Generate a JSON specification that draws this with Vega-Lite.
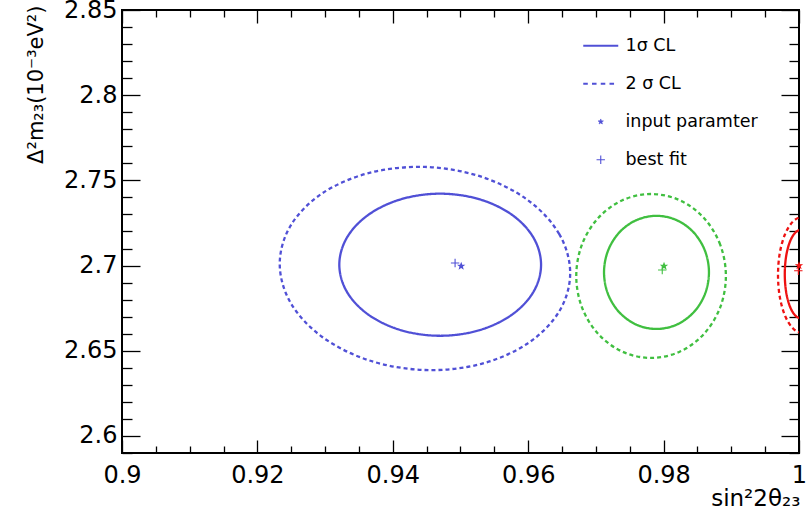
{
  "$schema": "https://vega.github.io/schema/vega-lite/v6.json",
  "width": 677,
  "height": 443,
  "autosize": "none",
  "padding": {"left": 122, "top": 10, "right": 10, "bottom": 66},
  "background": "white",
  "datasets": {
    "contours": [
      {"c":"B1","grp":"blue","cl":"1","i":0,"x":0.9619,"y":2.7005},
      {"c":"B1","grp":"blue","cl":"1","i":1,"x":0.96077,"y":2.71646},
      {"c":"B1","grp":"blue","cl":"1","i":2,"x":0.95754,"y":2.72999},
      {"c":"B1","grp":"blue","cl":"1","i":3,"x":0.9527,"y":2.73903},
      {"c":"B1","grp":"blue","cl":"1","i":4,"x":0.947,"y":2.7422},
      {"c":"B1","grp":"blue","cl":"1","i":5,"x":0.9413,"y":2.73903},
      {"c":"B1","grp":"blue","cl":"1","i":6,"x":0.93646,"y":2.72999},
      {"c":"B1","grp":"blue","cl":"1","i":7,"x":0.93323,"y":2.71646},
      {"c":"B1","grp":"blue","cl":"1","i":8,"x":0.9321,"y":2.7005},
      {"c":"B1","grp":"blue","cl":"1","i":9,"x":0.93323,"y":2.68454},
      {"c":"B1","grp":"blue","cl":"1","i":10,"x":0.93646,"y":2.67101},
      {"c":"B1","grp":"blue","cl":"1","i":11,"x":0.9413,"y":2.66197},
      {"c":"B1","grp":"blue","cl":"1","i":12,"x":0.947,"y":2.6588},
      {"c":"B1","grp":"blue","cl":"1","i":13,"x":0.9527,"y":2.66197},
      {"c":"B1","grp":"blue","cl":"1","i":14,"x":0.95754,"y":2.67101},
      {"c":"B1","grp":"blue","cl":"1","i":15,"x":0.96077,"y":2.68454},
      {"c":"B2","grp":"blue","cl":"2","i":0,"x":0.9662,"y":2.6956},
      {"c":"B2","grp":"blue","cl":"2","i":1,"x":0.96457,"y":2.7186},
      {"c":"B2","grp":"blue","cl":"2","i":2,"x":0.95992,"y":2.7385},
      {"c":"B2","grp":"blue","cl":"2","i":3,"x":0.95296,"y":2.7523},
      {"c":"B2","grp":"blue","cl":"2","i":4,"x":0.94475,"y":2.7579},
      {"c":"B2","grp":"blue","cl":"2","i":5,"x":0.93654,"y":2.7544},
      {"c":"B2","grp":"blue","cl":"2","i":6,"x":0.92958,"y":2.7424},
      {"c":"B2","grp":"blue","cl":"2","i":7,"x":0.92493,"y":2.7236},
      {"c":"B2","grp":"blue","cl":"2","i":8,"x":0.9233,"y":2.701},
      {"c":"B2","grp":"blue","cl":"2","i":9,"x":0.92493,"y":2.678},
      {"c":"B2","grp":"blue","cl":"2","i":10,"x":0.92958,"y":2.6581},
      {"c":"B2","grp":"blue","cl":"2","i":11,"x":0.93654,"y":2.6443},
      {"c":"B2","grp":"blue","cl":"2","i":12,"x":0.94475,"y":2.6387},
      {"c":"B2","grp":"blue","cl":"2","i":13,"x":0.95296,"y":2.6422},
      {"c":"B2","grp":"blue","cl":"2","i":14,"x":0.95992,"y":2.6543},
      {"c":"B2","grp":"blue","cl":"2","i":15,"x":0.96457,"y":2.673},
      {"c":"G1","grp":"green","cl":"1","i":0,"x":0.9867,"y":2.696},
      {"c":"G1","grp":"green","cl":"1","i":1,"x":0.98611,"y":2.70871},
      {"c":"G1","grp":"green","cl":"1","i":2,"x":0.98443,"y":2.71948},
      {"c":"G1","grp":"green","cl":"1","i":3,"x":0.98192,"y":2.72667},
      {"c":"G1","grp":"green","cl":"1","i":4,"x":0.97895,"y":2.7292},
      {"c":"G1","grp":"green","cl":"1","i":5,"x":0.97598,"y":2.72667},
      {"c":"G1","grp":"green","cl":"1","i":6,"x":0.97347,"y":2.71948},
      {"c":"G1","grp":"green","cl":"1","i":7,"x":0.97179,"y":2.70871},
      {"c":"G1","grp":"green","cl":"1","i":8,"x":0.9712,"y":2.696},
      {"c":"G1","grp":"green","cl":"1","i":9,"x":0.97179,"y":2.68329},
      {"c":"G1","grp":"green","cl":"1","i":10,"x":0.97347,"y":2.67252},
      {"c":"G1","grp":"green","cl":"1","i":11,"x":0.97598,"y":2.66533},
      {"c":"G1","grp":"green","cl":"1","i":12,"x":0.97895,"y":2.6628},
      {"c":"G1","grp":"green","cl":"1","i":13,"x":0.98192,"y":2.66533},
      {"c":"G1","grp":"green","cl":"1","i":14,"x":0.98443,"y":2.67252},
      {"c":"G1","grp":"green","cl":"1","i":15,"x":0.98611,"y":2.68329},
      {"c":"G2","grp":"green","cl":"2","i":0,"x":0.9892,"y":2.6939},
      {"c":"G2","grp":"green","cl":"2","i":1,"x":0.98836,"y":2.71231},
      {"c":"G2","grp":"green","cl":"2","i":2,"x":0.98596,"y":2.72791},
      {"c":"G2","grp":"green","cl":"2","i":3,"x":0.98238,"y":2.73834},
      {"c":"G2","grp":"green","cl":"2","i":4,"x":0.97815,"y":2.742},
      {"c":"G2","grp":"green","cl":"2","i":5,"x":0.97392,"y":2.73834},
      {"c":"G2","grp":"green","cl":"2","i":6,"x":0.97034,"y":2.72791},
      {"c":"G2","grp":"green","cl":"2","i":7,"x":0.96794,"y":2.71231},
      {"c":"G2","grp":"green","cl":"2","i":8,"x":0.9671,"y":2.6939},
      {"c":"G2","grp":"green","cl":"2","i":9,"x":0.96794,"y":2.67549},
      {"c":"G2","grp":"green","cl":"2","i":10,"x":0.97034,"y":2.65989},
      {"c":"G2","grp":"green","cl":"2","i":11,"x":0.97392,"y":2.64946},
      {"c":"G2","grp":"green","cl":"2","i":12,"x":0.97815,"y":2.6458},
      {"c":"G2","grp":"green","cl":"2","i":13,"x":0.98238,"y":2.64946},
      {"c":"G2","grp":"green","cl":"2","i":14,"x":0.98596,"y":2.65989},
      {"c":"G2","grp":"green","cl":"2","i":15,"x":0.98836,"y":2.67549},
      {"c":"R1","grp":"red","cl":"1","i":0,"x":1.0027,"y":2.695},
      {"c":"R1","grp":"red","cl":"1","i":1,"x":1.00252,"y":2.70495},
      {"c":"R1","grp":"red","cl":"1","i":2,"x":1.002,"y":2.71338},
      {"c":"R1","grp":"red","cl":"1","i":3,"x":1.00122,"y":2.71902},
      {"c":"R1","grp":"red","cl":"1","i":4,"x":1.0003,"y":2.721},
      {"c":"R1","grp":"red","cl":"1","i":5,"x":0.99938,"y":2.71902},
      {"c":"R1","grp":"red","cl":"1","i":6,"x":0.9986,"y":2.71338},
      {"c":"R1","grp":"red","cl":"1","i":7,"x":0.99808,"y":2.70495},
      {"c":"R1","grp":"red","cl":"1","i":8,"x":0.9979,"y":2.695},
      {"c":"R1","grp":"red","cl":"1","i":9,"x":0.99808,"y":2.68505},
      {"c":"R1","grp":"red","cl":"1","i":10,"x":0.9986,"y":2.67662},
      {"c":"R1","grp":"red","cl":"1","i":11,"x":0.99938,"y":2.67098},
      {"c":"R1","grp":"red","cl":"1","i":12,"x":1.0003,"y":2.669},
      {"c":"R1","grp":"red","cl":"1","i":13,"x":1.00122,"y":2.67098},
      {"c":"R1","grp":"red","cl":"1","i":14,"x":1.002,"y":2.67662},
      {"c":"R1","grp":"red","cl":"1","i":15,"x":1.00252,"y":2.68505},
      {"c":"R2","grp":"red","cl":"2","i":0,"x":1.0041,"y":2.6945},
      {"c":"R2","grp":"red","cl":"2","i":1,"x":1.00383,"y":2.70751},
      {"c":"R2","grp":"red","cl":"2","i":2,"x":1.00305,"y":2.71854},
      {"c":"R2","grp":"red","cl":"2","i":3,"x":1.00188,"y":2.72591},
      {"c":"R2","grp":"red","cl":"2","i":4,"x":1.0005,"y":2.7285},
      {"c":"R2","grp":"red","cl":"2","i":5,"x":0.99912,"y":2.72591},
      {"c":"R2","grp":"red","cl":"2","i":6,"x":0.99795,"y":2.71854},
      {"c":"R2","grp":"red","cl":"2","i":7,"x":0.99717,"y":2.70751},
      {"c":"R2","grp":"red","cl":"2","i":8,"x":0.9969,"y":2.6945},
      {"c":"R2","grp":"red","cl":"2","i":9,"x":0.99717,"y":2.68149},
      {"c":"R2","grp":"red","cl":"2","i":10,"x":0.99795,"y":2.67046},
      {"c":"R2","grp":"red","cl":"2","i":11,"x":0.99912,"y":2.66309},
      {"c":"R2","grp":"red","cl":"2","i":12,"x":1.0005,"y":2.6605},
      {"c":"R2","grp":"red","cl":"2","i":13,"x":1.00188,"y":2.66309},
      {"c":"R2","grp":"red","cl":"2","i":14,"x":1.00305,"y":2.67046},
      {"c":"R2","grp":"red","cl":"2","i":15,"x":1.00383,"y":2.68149}
    ],
    "markers": [
      {"grp":"blue","kind":"input paramter","x":0.9501,"y":2.6997},
      {"grp":"blue","kind":"best fit","x":0.9492,"y":2.7015},
      {"grp":"green","kind":"input paramter","x":0.98006,"y":2.6997},
      {"grp":"green","kind":"best fit","x":0.9798,"y":2.6974},
      {"grp":"red","kind":"input paramter","x":1.0,"y":2.7},
      {"grp":"red","kind":"best fit","x":0.9999,"y":2.697}
    ]
  },
  "layer": [
    {
      "data": {"name": "contours"},
      "mark": {"type": "line", "interpolate": "cardinal-closed", "clip": true, "strokeWidth": 2.3},
      "encoding": {
        "x": {
          "field": "x", "type": "quantitative",
          "scale": {"domain": [0.9, 1.0], "nice": false, "zero": false},
          "axis": {
            "orient": "bottom",
            "values": [0.9,0.905,0.91,0.915,0.92,0.925,0.93,0.935,0.94,0.945,0.95,0.955,0.96,0.965,0.97,0.975,0.98,0.985,0.99,0.995,1],
            "domain": false, "grid": false, "labelFlush": false, "labelOverlap": false, "labelBound": false,
            "labelExpr": "abs(datum.value*50-round(datum.value*50))<1e-6 ? format(datum.value,'~g') : ''",
            "labelFontSize": 24, "labelPadding": 23,
            "tickSize": {"condition": {"test": "abs(datum.value*50-round(datum.value*50))<1e-6", "value": -13}, "value": -7},
            "tickWidth": 1.3,
            "title": "sin²2θ₂₃", "titleFontSize": 23, "titleAlign": "right", "titleBaseline": "alphabetic",
            "titleX": 678, "titleY": 52
          }
        },
        "y": {
          "field": "y", "type": "quantitative",
          "scale": {"domain": [2.59, 2.85], "nice": false, "zero": false},
          "axis": {
            "orient": "left",
            "values": [2.59,2.6,2.61,2.62,2.63,2.64,2.65,2.66,2.67,2.68,2.69,2.7,2.71,2.72,2.73,2.74,2.75,2.76,2.77,2.78,2.79,2.8,2.81,2.82,2.83,2.84,2.85],
            "domain": false, "grid": false, "labelFlush": false, "labelOverlap": false, "labelBound": false,
            "labelExpr": "abs(datum.value*20-round(datum.value*20))<1e-6 ? format(datum.value,'~g') : ''",
            "labelFontSize": 24, "labelPadding": 23,
            "tickSize": {"condition": {"test": "abs(datum.value*20-round(datum.value*20))<1e-6", "value": -18}, "value": -10},
            "tickWidth": 1.3,
            "title": "Δ²m₂₃(10⁻³eV²)", "titleFontSize": 21, "titleAngle": -90, "titleAlign": "right", "titleBaseline": "alphabetic",
            "titleX": -80, "titleY": -5
          }
        },
        "color": {"field": "grp", "type": "nominal", "scale": {"domain": ["blue", "green", "red"], "range": ["#5050d6", "#40bf40", "#ee1111"]}, "legend": null},
        "strokeDash": {"field": "cl", "type": "nominal", "scale": {"domain": ["1", "2"], "range": [[1, 0], [4, 3]]}, "legend": null},
        "detail": {"field": "c"},
        "order": {"field": "i", "type": "quantitative"}
      }
    },
    {
      "data": {"name": "markers"},
      "mark": {"type": "point", "size": 1225, "opacity": 1, "strokeWidth": 1.1},
      "encoding": {
        "x": {
          "field": "x", "type": "quantitative",
          "scale": {"domain": [0.9, 1.0], "nice": false, "zero": false},
          "axis": {
            "orient": "top",
            "values": [0.9,0.905,0.91,0.915,0.92,0.925,0.93,0.935,0.94,0.945,0.95,0.955,0.96,0.965,0.97,0.975,0.98,0.985,0.99,0.995,1],
            "domain": false, "grid": false, "labels": false, "title": null,
            "tickSize": {"condition": {"test": "abs(datum.value*50-round(datum.value*50))<1e-6", "value": -13}, "value": -7},
            "tickWidth": 1.3
          }
        },
        "y": {
          "field": "y", "type": "quantitative",
          "scale": {"domain": [2.59, 2.85], "nice": false, "zero": false},
          "axis": {
            "orient": "right",
            "values": [2.59,2.6,2.61,2.62,2.63,2.64,2.65,2.66,2.67,2.68,2.69,2.7,2.71,2.72,2.73,2.74,2.75,2.76,2.77,2.78,2.79,2.8,2.81,2.82,2.83,2.84,2.85],
            "domain": false, "grid": false, "labels": false, "title": null,
            "tickSize": {"condition": {"test": "abs(datum.value*20-round(datum.value*20))<1e-6", "value": -18}, "value": -10},
            "tickWidth": 1.3
          }
        },
        "shape": {
          "field": "kind", "type": "nominal",
          "scale": {
            "domain": ["1σ CL", "2 σ CL", "input paramter", "best fit"],
            "range": [
              "M-1,0H1",
              "M-1,0H-0.74M-0.5,0H-0.24M0,0H0.26M0.5,0H0.76",
              "M0,-0.16L0.038,-0.053L0.152,-0.049L0.062,0.02L0.094,0.129L0,0.065L-0.094,0.129L-0.062,0.02L-0.152,-0.049L-0.038,-0.053Z",
              "M-0.24,0H0.24M0,-0.24V0.24"
            ]
          },
          "legend": {
            "title": null, "orient": "none", "legendX": 470, "legendY": 27,
            "symbolSize": 1225, "labelFont": "DejaVu Sans", "labelFontSize": 17.5, "labelColor": "black",
            "labelOffset": 16, "rowPadding": 19, "padding": 0,
            "symbolFillColor": "#5050d6", "symbolStrokeColor": "#5050d6", "symbolStrokeWidth": 2.2, "symbolOpacity": 1,
            "encode": {
              "symbols": {
                "update": {
                  "strokeWidth": {"signal": "datum.value === 'input paramter' ? 0.6 : (datum.value === 'best fit' ? 1.1 : 2.2)"}
                }
              }
            }
          }
        },
        "fill": {"field": "grp", "type": "nominal", "scale": {"domain": ["blue", "green", "red"], "range": ["#5050d6", "#40bf40", "#ee1111"]}, "legend": null},
        "stroke": {"field": "grp", "type": "nominal", "scale": {"domain": ["blue", "green", "red"], "range": ["#5050d6", "#40bf40", "#ee1111"]}, "legend": null}
      }
    }
  ],
  "resolve": {"axis": {"x": "independent", "y": "independent"}},
  "config": {
    "view": {"stroke": "black", "strokeWidth": 2},
    "axis": {"labelFont": "DejaVu Sans", "titleFont": "DejaVu Sans", "labelColor": "black", "titleColor": "black", "tickColor": "black", "titleFontWeight": "normal"},
    "legend": {"symbolBaseFillColor": "#5050d6", "symbolBaseStrokeColor": "#5050d6"}
  }
}
